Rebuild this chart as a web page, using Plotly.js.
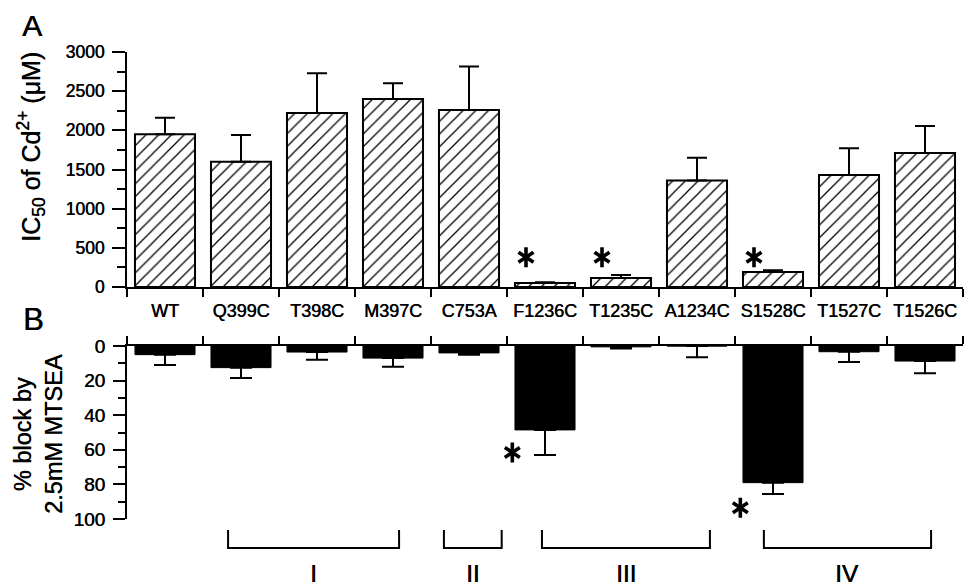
<!DOCTYPE html>
<html>
<head>
<meta charset="utf-8">
<script src="https://cdn.plot.ly/plotly-3.0.1.min.js"></script>
<style>html,body{margin:0;padding:0;background:#fff;}#chart{width:973px;height:586px;}</style>
</head>
<body>
<div id="chart"></div>
<script>
// ---- data ----
const categories = ['WT','Q399C','T398C','M397C','C753A','F1236C','T1235C','A1234C','S1528C','T1527C','T1526C'];
const ic50Values = [1950, 1600, 2220, 2400, 2260, 50, 115, 1360, 190, 1430, 1710];
const ic50Errors = [210, 340, 510, 200, 555, 12, 38, 290, 25, 340, 345];
const blockValues = [5, 12.5, 3.5, 7, 4, 48.5, 0.5, 0, 79, 3.3, 8.7];
const blockErrors = [6, 6, 4.5, 5, 1, 14.5, 1, 6.5, 6.5, 6, 7];
const sigTop = ['F1236C', 'T1235C', 'S1528C'];
const sigBottom = ['F1236C', 'S1528C'];
const regionLabels = ['I', 'II', 'III', 'IV'];
const regionFrom = [0.83, 3.67, 4.96, 7.88];   // in category-index units
const regionTo = [3.08, 4.43, 7.17, 10.08];
const topTicks = [0, 500, 1000, 1500, 2000, 2500, 3000];
const bottomTicks = [0, 20, 40, 60, 80, 100];

// ---- layout constants ----
const FONT = 'Liberation Sans, Arial, Helvetica, sans-serif';
const SHADOW = '0.5px 0px 0px black';
const f = size => ({family: FONT, size: size, color: 'black', shadow: SHADOW});
const PLOT_TOP = 52, PLOT_BOTTOM = 519, H = PLOT_BOTTOM - PLOT_TOP;
const py = p => (PLOT_BOTTOM - p) / H;          // pixel row -> paper y
const px = v => (v + 0.5) / categories.length;  // category index -> paper x
const starTopY = 380;
const starBottomY = [61.5, 93.5];
const starTopShift = -0.25, starBottomShift = -0.43;

const zeros = categories.map(() => 0);

const topBars = {
  type: 'bar', x: categories, y: ic50Values, xaxis: 'x', yaxis: 'y', width: 0.79,
  marker: {color: 'white', line: {color: 'black', width: 2},
           pattern: {shape: '/', fgcolor: 'black', bgcolor: 'white', size: 9, solidity: 0.14}},
  error_y: {type: 'data', symmetric: false, array: ic50Errors, arrayminus: zeros,
            color: 'black', thickness: 2, width: 10},
  hoverinfo: 'skip', showlegend: false
};
const bottomBars = {
  type: 'bar', x: categories, y: blockValues, xaxis: 'x2', yaxis: 'y2', width: 0.79,
  marker: {color: 'black', line: {color: 'black', width: 1}},
  error_y: {type: 'data', symmetric: false, array: blockErrors, arrayminus: zeros,
            color: 'black', thickness: 2, width: 11},
  hoverinfo: 'skip', showlegend: false
};

function stars(names, ys, shift, xa, ya) {
  const xs = names.map(n => categories.indexOf(n) + shift);
  return ['y-up-open', 'y-down-open'].map(sym => ({
    type: 'scatter', mode: 'markers', x: xs, y: ys, xaxis: xa, yaxis: ya,
    marker: {symbol: sym, size: 12.5, color: 'black', line: {color: 'black', width: 3.6}},
    cliponaxis: false, hoverinfo: 'skip', showlegend: false
  }));
}

const traces = [topBars, bottomBars,
  ...stars(sigTop, sigTop.map(() => starTopY), starTopShift, 'x3', 'y'),
  ...stars(sigBottom, starBottomY, starBottomShift, 'x4', 'y2')];

const shapes = regionLabels.map((lab, i) => ({
  type: 'path', xref: 'paper', yref: 'paper',
  path: `M ${px(regionFrom[i])},${py(530)} L ${px(regionFrom[i])},${py(548)} L ${px(regionTo[i])},${py(548)} L ${px(regionTo[i])},${py(530)}`,
  line: {color: 'black', width: 2}
}));

const annotations = [
  {text: 'IC<sub>50</sub> of Cd<sup>2+</sup> (μM)', xref: 'paper', yref: 'paper', x: 0, y: py(147),
   xshift: -96, xanchor: 'center', yanchor: 'middle', textangle: -90, showarrow: false,
   font: f(25)},
  {text: '% block by<br>2.5mM MTSEA', xref: 'paper', yref: 'paper', x: 0, y: py(434),
   xshift: -89, xanchor: 'center', yanchor: 'middle', textangle: -90, showarrow: false,
   font: f(23.5)},
  {text: 'A', xref: 'paper', yref: 'paper', x: 0, y: py(25), xshift: -95,
   xanchor: 'center', yanchor: 'middle', showarrow: false, font: f(30)},
  {text: 'B', xref: 'paper', yref: 'paper', x: 0, y: py(319), xshift: -94,
   xanchor: 'center', yanchor: 'middle', showarrow: false, font: f(31)},
  ...regionLabels.map((lab, i) => ({
    text: lab, xref: 'paper', yref: 'paper', x: (px(regionFrom[i]) + px(regionTo[i])) / 2, y: py(573),
    xanchor: 'center', yanchor: 'middle', showarrow: false, font: f(24.5)
  }))
];

const layout = {
  width: 973, height: 586,
  margin: {l: 127, r: 10, t: PLOT_TOP, b: 586 - PLOT_BOTTOM, pad: 0},
  paper_bgcolor: 'white', plot_bgcolor: 'white',
  font: {family: FONT, color: 'black'},
  showlegend: false, bargap: 0.21,
  xaxis: {
    domain: [0, 1], anchor: 'y', type: 'category', side: 'bottom',
    showline: true, linewidth: 2, linecolor: 'black', showgrid: false, zeroline: false,
    ticks: 'outside', tickson: 'boundaries', ticklen: 8, tickwidth: 2, tickcolor: 'black',
    ticklabelstandoff: 6, tickfont: f(18),
    range: [-0.5, 10.5]
  },
  xaxis2: {
    domain: [0, 1], anchor: 'y2', type: 'category', side: 'top',
    showline: true, linewidth: 2, linecolor: 'black', showgrid: false, zeroline: false,
    ticks: 'outside', tickson: 'boundaries', ticklen: 8, tickwidth: 2, tickcolor: 'black',
    showticklabels: false, range: [-0.5, 10.5]
  },
  xaxis3: {overlaying: 'x', anchor: 'y', type: 'linear', range: [-0.5, 10.5], visible: false},
  xaxis4: {overlaying: 'x2', anchor: 'y2', type: 'linear', range: [-0.5, 10.5], visible: false},
  yaxis: {
    domain: [py(287), 1], anchor: 'x', range: [0, 3000],
    showline: true, linewidth: 2, linecolor: 'black', showgrid: false, zeroline: false,
    tickmode: 'array', tickvals: topTicks, ticktext: topTicks.map(String),
    ticks: 'outside', ticklen: 13, tickwidth: 2, tickcolor: 'black', ticklabelstandoff: 4,
    tickfont: f(17.5),
    minor: {dtick: 250, ticks: 'outside', ticklen: 8, tickwidth: 2, tickcolor: 'black', showgrid: false}
  },
  yaxis2: {
    domain: [0, py(346)], anchor: 'x2', range: [100, 0], autorange: false,
    showline: true, linewidth: 2, linecolor: 'black', showgrid: false, zeroline: false,
    tickmode: 'array', tickvals: bottomTicks, ticktext: bottomTicks.map(String),
    ticks: 'outside', ticklen: 12, tickwidth: 2, tickcolor: 'black', ticklabelstandoff: 4,
    tickfont: f(19),
    minor: {dtick: 10, ticks: 'outside', ticklen: 7, tickwidth: 2, tickcolor: 'black', showgrid: false}
  },
  shapes: shapes,
  annotations: annotations
};

Plotly.newPlot('chart', traces, layout, {displayModeBar: false, staticPlot: true});
</script>
</body>
</html>
